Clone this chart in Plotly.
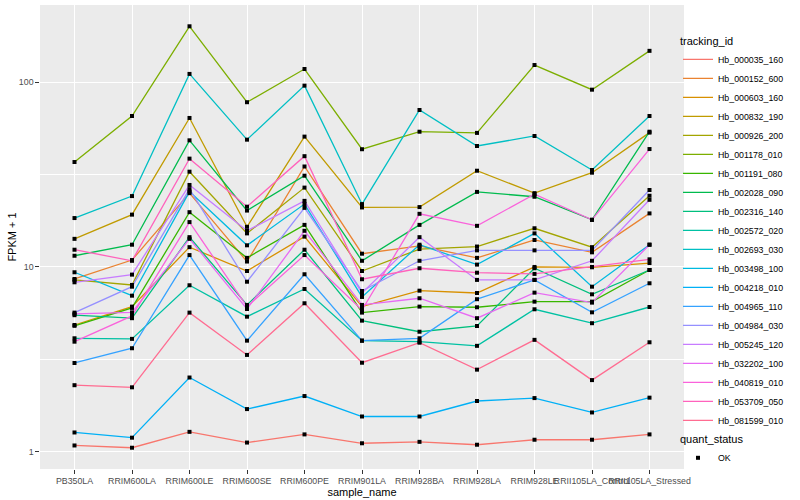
import plotly.graph_objects as go

samples = ["PB350LA", "RRIM600LA", "RRIM600LE", "RRIM600SE", "RRIM600PE", "RRIM901LA",
           "RRIM928BA", "RRIM928LA", "RRIM928LE", "RRII105LA_Control", "RRII105LA_Stressed"]

genes = ["Hb_000035_160", "Hb_000152_600", "Hb_000603_160", "Hb_000832_190", "Hb_000926_200",
         "Hb_001178_010", "Hb_001191_080", "Hb_002028_090", "Hb_002316_140", "Hb_002572_020",
         "Hb_002693_030", "Hb_003498_100", "Hb_004218_010", "Hb_004965_110", "Hb_004984_030",
         "Hb_005245_120", "Hb_032202_100", "Hb_040819_010", "Hb_053709_050", "Hb_081599_010"]

# FPKM + 1 values per gene, one per sample
hb_000035_160 = [1.08, 1.05, 1.28, 1.12, 1.24, 1.11, 1.13, 1.09, 1.16, 1.16, 1.24]
hb_000152_600 = [8.61, 10.9, 25.1, 10.7, 35.0, 11.8, 13.0, 11.2, 14.0, 12.0, 19.5]
hb_000603_160 = [4.85, 6.10, 12.8, 9.51, 14.6, 6.10, 7.44, 7.23, 10.0, 9.96, 10.5]
hb_000832_190 = [14.2, 19.2, 64.1, 16.5, 50.8, 21.0, 21.1, 33.2, 25.1, 32.4, 53.4]
hb_000926_200 = [8.51, 7.99, 32.8, 15.2, 26.9, 9.51, 12.5, 12.9, 16.2, 12.8, 24.3]
hb_001178_010 = [37.0, 65.7, 201.0, 78.0, 118.0, 43.4, 54.0, 53.2, 124.0, 91.2, 148.0]
hb_001191_080 = [4.80, 6.00, 19.8, 11.2, 16.9, 5.66, 6.10, 6.05, 6.49, 6.49, 9.63]
hb_002028_090 = [11.5, 13.2, 48.5, 20.2, 31.2, 10.8, 16.9, 25.5, 24.0, 18.0, 54.0]
hb_002316_140 = [5.48, 5.28, 14.5, 6.23, 12.4, 5.12, 4.46, 4.79, 9.84, 7.11, 9.63]
hb_002572_020 = [4.11, 4.08, 7.96, 5.38, 7.60, 3.99, 3.94, 3.74, 5.90, 4.96, 6.07]
hb_002693_030 = [18.4, 24.2, 111.0, 48.9, 95.9, 21.9, 70.8, 45.2, 51.2, 33.5, 65.7]
hb_003498_100 = [9.36, 6.99, 25.6, 13.1, 21.9, 6.88, 13.2, 10.3, 15.2, 7.82, 13.2]
hb_004218_010 = [1.27, 1.19, 2.52, 1.70, 2.00, 1.55, 1.55, 1.88, 1.95, 1.63, 1.96]
hb_004965_110 = [3.02, 3.63, 11.6, 3.99, 9.13, 3.99, 4.11, 6.69, 8.51, 5.68, 8.16]
hb_004984_030 = [5.66, 7.82, 26.4, 8.32, 20.9, 7.41, 10.8, 12.3, 12.3, 12.3, 26.1]
hb_005245_120 = [8.26, 9.09, 27.8, 15.7, 22.8, 7.23, 14.5, 8.51, 8.51, 10.8, 23.1]
hb_032202_100 = [5.57, 5.68, 14.2, 5.92, 15.7, 6.23, 6.77, 5.28, 7.26, 6.41, 13.2]
hb_040819_010 = [3.94, 5.43, 17.5, 6.10, 11.6, 5.85, 19.4, 16.7, 24.8, 18.0, 43.5]
hb_053709_050 = [12.4, 10.8, 38.6, 21.2, 39.8, 8.58, 9.84, 9.31, 9.17, 10.0, 11.0]
hb_081599_010 = [2.29, 2.23, 5.66, 3.34, 6.36, 3.03, 3.89, 2.78, 4.03, 2.44, 3.91]

series = [hb_000035_160, hb_000152_600, hb_000603_160, hb_000832_190, hb_000926_200,
          hb_001178_010, hb_001191_080, hb_002028_090, hb_002316_140, hb_002572_020,
          hb_002693_030, hb_003498_100, hb_004218_010, hb_004965_110, hb_004984_030,
          hb_005245_120, hb_032202_100, hb_040819_010, hb_053709_050, hb_081599_010]

quant_status = "OK"
y_ticks = [1, 10, 100]
y_minor = [3.1623, 31.623]

palette = ["#F8766D", "#EA8331", "#D89000", "#C09B00", "#A3A500", "#7CAE00", "#39B600",
           "#00BB4E", "#00BF7D", "#00C1A3", "#00BFC4", "#00BAE0", "#00B0F6", "#35A2FF",
           "#9590FF", "#C77CFF", "#E76BF3", "#FA62DB", "#FF62BC", "#FF6C91"]

FONT = "Liberation Sans, Arial, sans-serif"

fig = go.Figure()
for name, vals, col in zip(genes, series, palette):
    fig.add_trace(go.Scatter(x=samples, y=vals, mode="lines", name=name,
                             line=dict(color=col, width=1.3), legend="legend",
                             hoverinfo="skip"))

xs, ys = [], []
for vals in series:
    xs += samples
    ys += vals
fig.add_trace(go.Scatter(x=xs, y=ys, mode="markers", name=quant_status,
                         marker=dict(symbol="square", size=4, color="black"),
                         legend="legend2"))

fig.update_layout(
    width=800, height=500,
    margin=dict(l=40, r=116, t=5, b=31, autoexpand=False),
    paper_bgcolor="white", plot_bgcolor="#EBEBEB",
    font=dict(family=FONT, color="black"),
    xaxis=dict(type="category", categoryorder="array", categoryarray=samples,
               range=[-0.6, len(samples) - 0.4], showgrid=True, gridcolor="white",
               gridwidth=1.07, ticks="outside", ticklen=3.7, tickwidth=1.07,
               tickcolor="#333333", tickangle=0,
               tickfont=dict(size=8.8, color="#4D4D4D", family=FONT),
               title=dict(text="sample_name", font=dict(size=11), standoff=2),
               zeroline=False, showline=False, automargin=False),
    yaxis=dict(type="log", range=[-0.094, 2.4185], tickvals=y_ticks,
               ticktext=[str(v) for v in y_ticks], showgrid=True, gridcolor="white",
               gridwidth=1.07, ticks="outside", ticklen=3.7, tickwidth=1.07,
               tickcolor="#333333", tickfont=dict(size=8.8, color="#4D4D4D", family=FONT),
               minor=dict(tickvals=y_minor, showgrid=True, gridcolor="white",
                          gridwidth=0.55, ticks=""),
               title=dict(text="FPKM + 1", font=dict(size=11), standoff=0),
               zeroline=False, showline=False, automargin=False),
    legend=dict(title=dict(text="tracking_id", font=dict(size=11)),
                font=dict(size=8.8, family=FONT), xref="container", yref="container",
                x=0.8475, y=0.939, xanchor="left", yanchor="top", maxheight=470,
                bgcolor="rgba(0,0,0,0)", itemwidth=30, tracegroupgap=0),
    legend2=dict(title=dict(text="quant_status", font=dict(size=11)),
                 font=dict(size=8.8, family=FONT), xref="container", yref="container",
                 x=0.8475, y=0.142, xanchor="left", yanchor="top",
                 bgcolor="rgba(0,0,0,0)", itemwidth=30),
    showlegend=True,
)

fig.write_html("out.html", config={"displayModeBar": False},
               post_script="document.body.style.margin='0';document.body.style.overflow='hidden';")
